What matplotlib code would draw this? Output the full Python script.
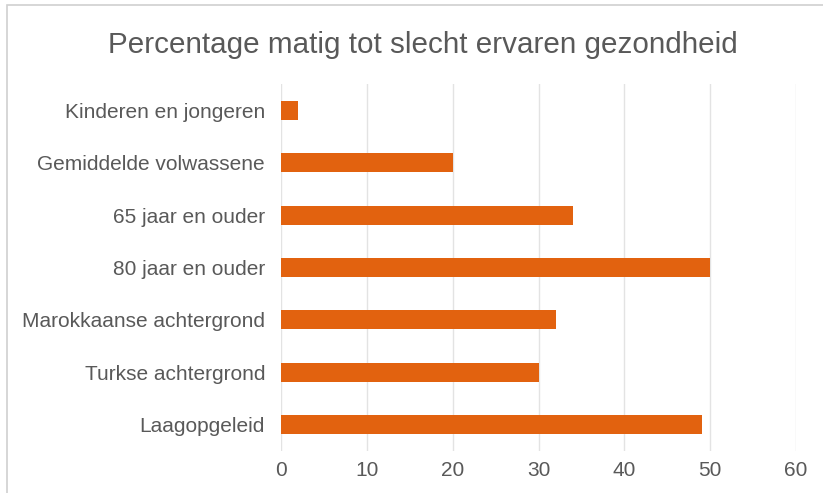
import matplotlib.pyplot as plt
from matplotlib.patches import Rectangle

plt.rcParams['font.family'] = ['Liberation Sans', 'DejaVu Sans']

title = "Percentage matig tot slecht ervaren gezondheid"
categories = [
    "Kinderen en jongeren",
    "Gemiddelde volwassene",
    "65 jaar en ouder",
    "80 jaar en ouder",
    "Marokkaanse achtergrond",
    "Turkse achtergrond",
    "Laagopgeleid",
]
values = [2, 20, 34, 50, 32, 30, 49]
xticks = [0, 10, 20, 30, 40, 50, 60]

bar_color = "#E2620F"
text_color = "#595959"
grid_color = "#E3E3E3"

W, H = 823, 493
fig = plt.figure(figsize=(W / 100, H / 100), dpi=100)
fig.patch.set_facecolor("white")

# chart frame (partially outside the canvas on the right and bottom)
fig.add_artist(Rectangle((7 / W, -0.1), 1.2, 1 - 5 / H + 0.1,
                         transform=fig.transFigure, fill=False,
                         edgecolor="#D0D0D0", linewidth=1.2))

ax = fig.add_axes([281 / W, 1 - 451 / H, (796 - 281) / W, (451 - 84) / H])
y = list(range(len(categories)))
ax.barh(y, values, height=0.36, color=bar_color, zorder=3)
ax.set_ylim(len(categories) - 0.5, -0.5)
ax.set_xlim(0, 60)
ax.set_xticks(xticks)
ax.set_xticklabels([str(t) for t in xticks])
ax.set_yticks(y)
ax.set_yticklabels(categories)
ax.tick_params(axis="both", length=0, colors=text_color, labelsize=15)
ax.tick_params(axis="x", pad=7)
ax.tick_params(axis="y", pad=11.5)
ax.grid(axis="x", color=grid_color, linewidth=1, zorder=0)
for s in ax.spines.values():
    s.set_visible(False)

fig.text(423 / W, 1 - 45 / H, title, ha="center", va="center",
         fontsize=21.3, color=text_color)

fig.savefig("out.png", dpi=100, facecolor="white")
